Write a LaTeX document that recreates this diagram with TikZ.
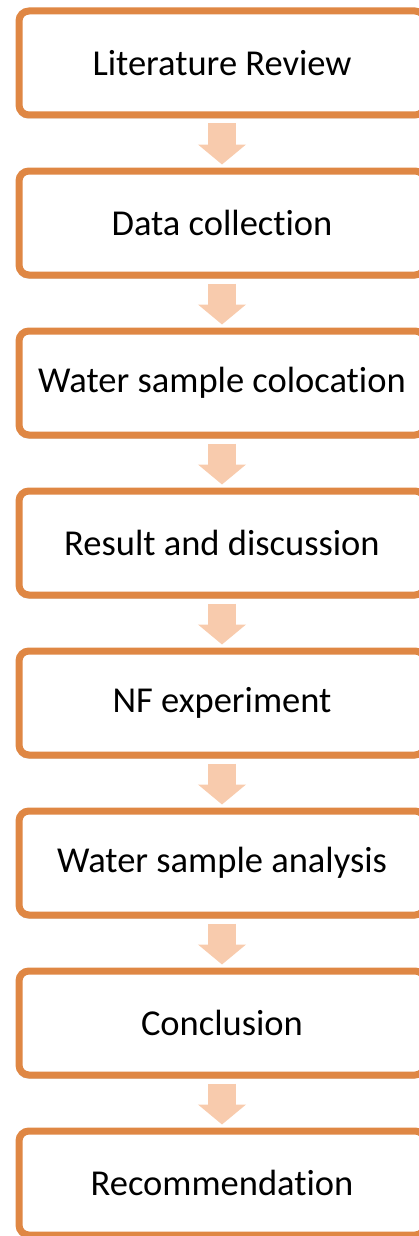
\documentclass[tikz,border=0pt]{standalone}
\usepackage{fontspec}
\setmainfont{Carlito}[Ligatures=CommonOff]
\usepackage{tikz}
\usetikzlibrary{arrows.meta,positioning,shadows}
\definecolor{frame}{HTML}{DF8744}
\definecolor{flowpale}{HTML}{F8CBAD}

\begin{document}
\begin{tikzpicture}[x=1pt,y=1pt,node distance=49pt, every node/.style={font=\fontsize{36.5}{44}\selectfont,align=center},
  box/.style={rounded corners=3.5mm,draw=frame,line width=7pt,fill=white,minimum width=406pt,minimum height=104pt,
    drop shadow={shadow xshift=-1.5pt,shadow yshift=-3.5pt,opacity=.35}},
  flow/.style={draw=flowpale,line width=28pt,-{Triangle[width=47pt,length=20pt,fill=flowpale]},shorten <=5pt,shorten >=3pt}]
  \useasboundingbox (0,0) rectangle (418,-1236);
  \node[box] (lit) at (222,-63) {Literature Review};
  \node[box,below=of lit] (data) {Data collection};
  \node[box,below=of data] (coll) {Water sample colocation};
  \node[box,below=of coll] (res) {Result and discussion};
  \node[box,below=of res] (nf) {NF experiment};
  \node[box,below=of nf] (anal) {Water sample analysis};
  \node[box,below=of anal] (conc) {Conclusion};
  \node[box,below=of conc] (rec) {Recommendation};
  \foreach \u/\v in {lit/data,data/coll,coll/res,res/nf,nf/anal,anal/conc,conc/rec}
    \draw[flow] (\u.south) -- (\v.north);
\end{tikzpicture}
\end{document}
